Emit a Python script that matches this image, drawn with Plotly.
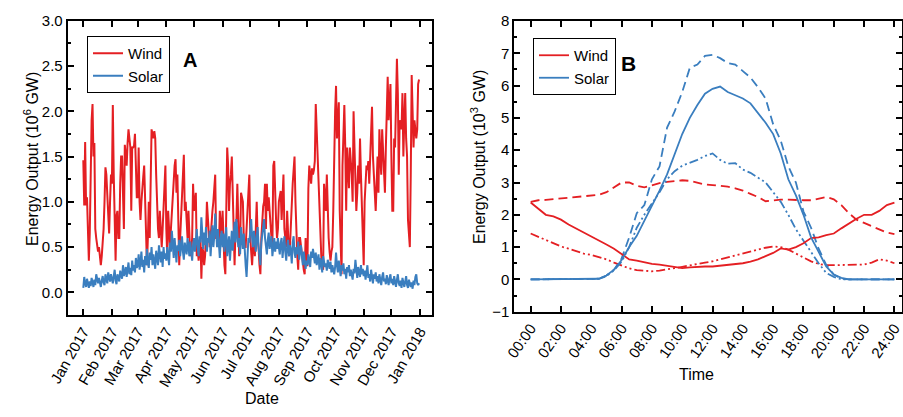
import pandas as pd
import plotly.graph_objects as go

# ---------------- Panel A data (daily, 2017, 10^6 GW) ----------------
wind_jan = [1.46, 0.96, 1.66, 0.96, 1.05, 0.64, 0.35, 0.65, 1.58, 1.9, 2.08, 1.5, 1.65, 0.7, 0.6, 0.5, 0.45, 0.5, 0.35, 0.3, 0.4, 0.55, 0.7, 1.0, 1.38, 1.3, 1.1, 0.9, 0.65, 1.0, 1.3]
wind_feb = [1.2, 2.07, 1.3, 0.7, 0.35, 0.85, 0.9, 0.6, 0.6, 1.2, 1.5, 1.5, 1.0, 0.7, 1.63, 1.5, 1.4, 1.65, 1.8, 1.7, 1.6, 0.9, 1.6, 1.6, 1.62, 1.75, 1.2, 1.05]
wind_mar = [1.05, 1.6, 1.0, 0.8, 1.0, 1.2, 1.28, 1.4, 0.9, 0.5, 0.3, 0.6, 1.0, 0.6, 1.2, 1.8, 1.75, 1.7, 1.78, 1.7, 1.3, 0.9, 0.7, 0.6, 0.9, 0.7, 0.5, 0.7, 0.95, 1.2, 1.4]
wind_apr = [0.7, 0.4, 0.9, 0.6, 0.5, 0.7, 0.9, 1.1, 1.3, 1.4, 1.47, 1.1, 1.3, 0.6, 0.3, 0.6, 0.8, 1.0, 1.2, 1.52, 0.9, 1.0, 0.8, 0.6, 0.9, 0.6, 0.4, 0.45, 0.6, 1.2]
wind_may = [0.9, 1.0, 1.1, 0.4, 0.5, 0.35, 0.5, 0.6, 0.15, 0.5, 0.45, 0.3, 0.4, 0.6, 1.0, 0.8, 0.6, 0.5, 0.6, 0.8, 0.9, 1.0, 1.2, 1.3, 0.6, 0.6, 0.55, 0.5, 0.9, 0.75, 0.6]
wind_jun = [0.9, 0.4, 0.3, 0.2, 1.1, 1.6, 1.4, 0.9, 1.2, 1.3, 1.5, 1.1, 0.4, 0.3, 0.7, 0.8, 1.2, 0.6, 0.4, 0.5, 1.1, 1.05, 1.0, 0.6, 0.5, 0.5, 0.7, 0.9, 1.2, 1.3]
wind_jul = [0.6, 0.45, 0.3, 0.5, 0.6, 0.4, 0.8, 1.0, 0.6, 0.5, 0.3, 0.2, 0.6, 0.8, 0.95, 1.0, 1.2, 0.7, 1.2, 0.9, 1.05, 0.9, 0.7, 0.6, 0.5, 1.4, 1.45, 1.0, 0.8, 0.6, 0.7]
wind_aug = [1.0, 1.05, 1.12, 0.8, 1.0, 1.3, 0.7, 0.6, 0.5, 0.9, 0.6, 0.4, 0.5, 0.8, 1.0, 1.2, 1.35, 1.5, 1.0, 0.6, 0.4, 0.25, 0.6, 0.6, 0.5, 0.4, 0.3, 0.25, 0.2, 0.6, 0.3]
wind_sep = [0.3, 1.15, 1.4, 1.3, 1.2, 1.37, 1.3, 1.35, 1.45, 2.08, 1.8, 1.6, 1.3, 0.9, 0.6, 0.4, 0.3, 0.25, 1.2, 0.95, 0.9, 1.3, 0.9, 0.6, 0.45, 0.35, 0.45, 0.5, 0.9, 1.6]
wind_oct = [2.0, 2.28, 1.7, 1.9, 2.1, 0.9, 0.6, 0.2, 1.4, 1.8, 2.07, 1.6, 0.9, 1.6, 1.3, 1.15, 1.6, 1.45, 1.3, 1.0, 2.0, 1.6, 1.1, 0.9, 1.1, 1.4, 1.2, 1.7, 1.3, 1.0, 0.5]
wind_nov = [0.3, 1.0, 1.3, 1.4, 1.35, 1.45, 1.2, 1.5, 1.8, 2.05, 1.5, 1.3, 1.0, 0.9, 1.2, 1.5, 1.1, 1.8, 1.5, 1.3, 1.8, 1.5, 1.3, 1.1, 1.6, 1.9, 2.38, 1.9, 2.1, 2.3]
wind_dec = [1.5, 0.9, 0.9, 1.7, 1.6, 2.2, 2.58, 2.2, 1.3, 1.9, 1.85, 1.8, 2.2, 1.5, 1.9, 2.2, 1.7, 1.5, 0.8, 0.6, 0.5, 1.3, 2.4, 2.0, 1.6, 1.9, 1.8, 1.7, 1.8, 2.3, 2.35]

solar_jan = [0.05, 0.17, 0.1, 0.06, 0.15, 0.08, 0.05, 0.12, 0.07, 0.16, 0.1, 0.06, 0.14, 0.08, 0.2, 0.12, 0.1, 0.16, 0.09, 0.06, 0.13, 0.18, 0.11, 0.08, 0.2, 0.15, 0.1, 0.22, 0.14, 0.12, 0.2]
solar_feb = [0.15, 0.1, 0.18, 0.25, 0.13, 0.09, 0.2, 0.16, 0.12, 0.24, 0.2, 0.15, 0.3, 0.18, 0.22, 0.28, 0.17, 0.25, 0.33, 0.2, 0.27, 0.19, 0.35, 0.24, 0.3, 0.22, 0.38, 0.27]
solar_mar = [0.3, 0.42, 0.25, 0.33, 0.45, 0.28, 0.36, 0.22, 0.4, 0.3, 0.48, 0.32, 0.27, 0.44, 0.36, 0.5, 0.3, 0.42, 0.35, 0.26, 0.46, 0.38, 0.3, 0.52, 0.4, 0.33, 0.45, 0.28, 0.5, 0.37, 0.43]
solar_apr = [0.35, 0.5, 0.42, 0.3, 0.55, 0.45, 0.68, 0.5, 0.38, 0.6, 0.44, 0.33, 0.52, 0.46, 0.58, 0.4, 0.5, 0.62, 0.45, 0.36, 0.55, 0.48, 0.42, 0.6, 0.5, 0.4, 0.56, 0.47, 0.35, 0.52]
solar_may = [0.6, 0.45, 0.55, 0.7, 0.5, 0.4, 0.62, 0.55, 0.83, 0.6, 0.48, 0.66, 0.52, 0.72, 0.45, 0.6, 0.55, 0.68, 0.4, 0.58, 0.74, 0.5, 0.62, 0.87, 0.65, 0.5, 0.7, 0.56, 0.38, 0.6, 0.68]
solar_jun = [0.5, 0.65, 0.45, 0.58, 0.72, 0.4, 0.55, 0.62, 0.35, 0.5, 0.68, 0.46, 0.6, 0.78, 0.55, 0.81, 0.66, 0.5, 0.6, 0.42, 0.72, 0.56, 0.48, 0.65, 0.4, 0.3, 0.17, 0.45, 0.6, 0.55]
solar_jul = [0.7, 0.81, 0.6, 0.5, 0.68, 0.55, 0.45, 0.62, 0.72, 0.5, 0.4, 0.3, 0.55, 0.65, 0.78, 0.81, 0.6, 0.5, 0.42, 0.58, 0.66, 0.48, 0.55, 0.62, 0.4, 0.52, 0.6, 0.45, 0.56, 0.48, 0.6]
solar_aug = [0.5, 0.42, 0.55, 0.6, 0.38, 0.48, 0.62, 0.45, 0.35, 0.5, 0.58, 0.4, 0.52, 0.46, 0.32, 0.55, 0.62, 0.44, 0.38, 0.5, 0.42, 0.56, 0.36, 0.46, 0.52, 0.4, 0.3, 0.45, 0.38, 0.26, 0.35]
solar_sep = [0.3, 0.42, 0.36, 0.28, 0.45, 0.38, 0.48, 0.4, 0.32, 0.44, 0.3, 0.36, 0.42, 0.25, 0.38, 0.33, 0.22, 0.4, 0.35, 0.28, 0.32, 0.24, 0.36, 0.3, 0.26, 0.34, 0.22, 0.3, 0.25, 0.2]
solar_oct = [0.28, 0.44, 0.3, 0.22, 0.35, 0.27, 0.18, 0.3, 0.24, 0.32, 0.2, 0.26, 0.15, 0.28, 0.22, 0.3, 0.18, 0.25, 0.2, 0.14, 0.26, 0.21, 0.36, 0.2, 0.16, 0.28, 0.22, 0.17, 0.3, 0.2, 0.26]
solar_nov = [0.18, 0.24, 0.14, 0.22, 0.3, 0.16, 0.2, 0.12, 0.25, 0.18, 0.1, 0.2, 0.15, 0.22, 0.12, 0.18, 0.1, 0.2, 0.14, 0.08, 0.17, 0.22, 0.12, 0.15, 0.09, 0.19, 0.13, 0.08, 0.16, 0.2]
solar_dec = [0.1, 0.15, 0.08, 0.18, 0.12, 0.06, 0.14, 0.2, 0.1, 0.07, 0.13, 0.05, 0.16, 0.1, 0.06, 0.12, 0.18, 0.08, 0.05, 0.14, 0.09, 0.06, 0.11, 0.04, 0.13, 0.08, 0.17, 0.2, 0.1, 0.08, 0.1]

month_ticks = ["2017-01-01", "2017-02-01", "2017-03-01", "2017-04-01", "2017-05-01", "2017-06-01",
               "2017-07-01", "2017-08-01", "2017-09-01", "2017-10-01", "2017-11-01", "2017-12-01", "2018-01-01"]
month_labels = ["Jan 2017", "Feb 2017", "Mar 2017", "Apr 2017", "May 2017", "Jun 2017", "Jul 2017",
                "Aug 2017", "Sep 2017", "Oct 2017", "Nov 2017", "Dec 2017", "Jan 2018"]

# ---------------- Panel B data (half-hourly, 10^3 GW) ----------------
hours = [h / 2 for h in range(49)]
wind_solid = [2.38, 2.2, 2.0, 1.95, 1.85, 1.7, 1.58, 1.45, 1.32, 1.2, 1.08, 0.95, 0.78, 0.62, 0.58, 0.52, 0.48, 0.46, 0.42, 0.38, 0.35, 0.37, 0.39, 0.4, 0.4, 0.42, 0.44, 0.47, 0.5, 0.55, 0.62, 0.72, 0.82, 0.96, 0.92, 1.0, 1.12, 1.28, 1.3, 1.37, 1.42, 1.58, 1.73, 1.88, 2.0, 2.0, 2.12, 2.3, 2.38]
wind_dash = [2.4, 2.45, 2.46, 2.48, 2.5, 2.53, 2.56, 2.57, 2.58, 2.62, 2.7, 2.85, 3.0, 3.0, 2.9, 2.85, 2.92, 2.98, 3.02, 3.05, 3.07, 3.05, 3.0, 2.94, 2.92, 2.9, 2.87, 2.82, 2.75, 2.65, 2.55, 2.42, 2.45, 2.47, 2.47, 2.45, 2.45, 2.45, 2.5, 2.55, 2.48, 2.3, 2.05, 1.85, 1.75, 1.65, 1.55, 1.45, 1.4]
wind_dashdot = [1.42, 1.32, 1.22, 1.1, 1.02, 0.95, 0.88, 0.8, 0.76, 0.7, 0.62, 0.52, 0.42, 0.34, 0.29, 0.27, 0.25, 0.27, 0.3, 0.35, 0.39, 0.44, 0.48, 0.52, 0.56, 0.62, 0.68, 0.76, 0.82, 0.88, 0.94, 0.98, 1.02, 1.0, 0.92, 0.8, 0.66, 0.56, 0.48, 0.44, 0.44, 0.44, 0.44, 0.44, 0.46, 0.52, 0.62, 0.58, 0.5]
solar_solid = [0, 0, 0, 0, 0, 0, 0, 0, 0, 0.02, 0.12, 0.3, 0.6, 1.0, 1.35, 1.8, 2.25, 2.75, 3.25, 3.9, 4.5, 5.0, 5.4, 5.75, 5.9, 5.97, 5.8, 5.7, 5.6, 5.45, 5.15, 4.85, 4.5, 3.9, 3.1, 2.6, 2.0, 1.3, 0.85, 0.4, 0.15, 0.05, 0, 0, 0, 0, 0, 0, 0]
solar_dash = [0, 0, 0, 0, 0, 0, 0, 0, 0, 0.02, 0.12, 0.3, 0.65, 1.3, 2.05, 2.3, 3.1, 3.5, 4.7, 5.2, 5.8, 6.55, 6.65, 6.92, 6.95, 6.85, 6.7, 6.65, 6.45, 6.25, 5.95, 5.6, 4.8, 4.3, 3.5, 3.0, 2.1, 1.6, 0.95, 0.45, 0.15, 0.02, 0, 0, 0, 0, 0, 0, 0]
solar_dashdot = [0, 0, 0, 0, 0, 0, 0, 0, 0, 0.02, 0.1, 0.28, 0.55, 1.0, 1.6, 2.0, 2.35, 2.7, 3.1, 3.35, 3.52, 3.6, 3.7, 3.82, 3.9, 3.7, 3.58, 3.6, 3.4, 3.3, 3.15, 3.0, 2.7, 2.4, 2.0, 1.55, 1.2, 0.85, 0.5, 0.2, 0.08, 0.0, 0, 0, 0, 0, 0, 0, 0]
hour_ticks = list(range(0, 25, 2))
hour_labels = ["00:00", "02:00", "04:00", "06:00", "08:00", "10:00", "12:00",
               "14:00", "16:00", "18:00", "20:00", "22:00", "24:00"]

# ---------------- build ----------------
wind_daily = (wind_jan + wind_feb + wind_mar + wind_apr + wind_may + wind_jun +
              wind_jul + wind_aug + wind_sep + wind_oct + wind_nov + wind_dec)
solar_daily = (solar_jan + solar_feb + solar_mar + solar_apr + solar_may + solar_jun +
               solar_jul + solar_aug + solar_sep + solar_oct + solar_nov + solar_dec)
dates = pd.date_range("2017-01-01", periods=len(wind_daily), freq="D")

RED = "#e41f23"
BLUE = "#3a7ebf"
FONT = "Liberation Sans, Arial, sans-serif"
W, H = 903, 417

fig = go.Figure()
fig.add_trace(go.Scatter(x=dates, y=wind_daily, mode="lines", name="Wind",
                         line=dict(color=RED, width=2), xaxis="x", yaxis="y", legend="legend"))
fig.add_trace(go.Scatter(x=dates, y=solar_daily, mode="lines", name="Solar",
                         line=dict(color=BLUE, width=2), xaxis="x", yaxis="y", legend="legend"))

DD = "9px,3px,2px,3px,2px,3px"
fig.add_trace(go.Scatter(x=hours, y=wind_dash, mode="lines", showlegend=False,
                         line=dict(color=RED, width=1.8, dash="9px,5px"), xaxis="x2", yaxis="y2"))
fig.add_trace(go.Scatter(x=hours, y=wind_dashdot, mode="lines", showlegend=False,
                         line=dict(color=RED, width=1.8, dash=DD), xaxis="x2", yaxis="y2"))
fig.add_trace(go.Scatter(x=hours, y=solar_dash, mode="lines", showlegend=False,
                         line=dict(color=BLUE, width=1.8, dash="9px,5px"), xaxis="x2", yaxis="y2"))
fig.add_trace(go.Scatter(x=hours, y=solar_dashdot, mode="lines", showlegend=False,
                         line=dict(color=BLUE, width=1.8, dash=DD), xaxis="x2", yaxis="y2"))
fig.add_trace(go.Scatter(x=hours, y=wind_solid, mode="lines", name="Wind",
                         line=dict(color=RED, width=1.8), xaxis="x2", yaxis="y2", legend="legend2"))
fig.add_trace(go.Scatter(x=hours, y=solar_solid, mode="lines", name="Solar",
                         line=dict(color=BLUE, width=1.8), xaxis="x2", yaxis="y2", legend="legend2"))

common = dict(showline=True, linecolor="black", linewidth=2, mirror="ticks",
              ticks="inside", ticklen=6, tickwidth=1.5, tickcolor="black",
              showgrid=False, zeroline=False, automargin=False, ticklabeloverflow="allow",
              tickfont=dict(family=FONT, size=15, color="black"))

def px(xp):
    return xp / W

def py(yp):
    return 1 - yp / H

fig.update_layout(
    width=W, height=H,
    margin=dict(l=0, r=0, t=0, b=0, autoexpand=False),
    paper_bgcolor="white", plot_bgcolor="white",
    font=dict(family=FONT, color="black"),
    xaxis=dict(common, type="date", domain=[px(67.7), px(431.7)], anchor="y",
               range=["2016-12-15 02:00", "2018-01-13 17:00"],
               tickvals=month_ticks, ticktext=month_labels, tickangle=-60),
    yaxis=dict(common, domain=[py(315), py(20.7)], anchor="x",
               range=[-0.25, 3.0], tick0=0, dtick=0.5, tickformat=".1f",
               minor=dict(ticks="inside", ticklen=3, dtick=0.25, tick0=0, tickcolor="black", tickwidth=1.5)),
    xaxis2=dict(common, domain=[px(514.3), px(902)], anchor="y2",
                range=[-1.08, 24.5], tickvals=hour_ticks, ticktext=hour_labels, tickangle=-55),
    yaxis2=dict(common, domain=[py(311.7), py(21)], anchor="x2",
                range=[-1, 8], tick0=0, dtick=1,
                minor=dict(ticks="inside", ticklen=3, dtick=0.5, tick0=0, tickcolor="black", tickwidth=1.5)),
    legend=dict(x=px(87), y=py(36), xanchor="left", yanchor="top",
                bgcolor="white", bordercolor="black", borderwidth=1,
                font=dict(family=FONT, size=15, color="black"), tracegroupgap=0),
    legend2=dict(x=px(533), y=py(38), xanchor="left", yanchor="top",
                 bgcolor="white", bordercolor="black", borderwidth=1,
                 font=dict(family=FONT, size=15, color="black"), tracegroupgap=0),
    annotations=[
        dict(text="<b>A</b>", x=px(181), y=py(47), xref="paper", yref="paper",
             showarrow=False, font=dict(family=FONT, size=20, color="black")),
        dict(text="<b>B</b>", x=px(638), y=py(50), xref="paper", yref="paper",
             showarrow=False, font=dict(family=FONT, size=21, color="black")),
        dict(text="Energy Output (10<sup>6</sup> GW)", x=px(19), y=py(159), xref="paper", yref="paper",
             textangle=-90, showarrow=False, font=dict(family=FONT, size=16, color="black")),
        dict(text="Energy Output (10<sup>3</sup> GW)", x=px(478), y=py(157), xref="paper", yref="paper",
             textangle=-90, showarrow=False, font=dict(family=FONT, size=16, color="black")),
        dict(text="Date", x=px(243), y=py(409), xref="paper", yref="paper",
             showarrow=False, font=dict(family=FONT, size=16, color="black")),
        dict(text="Time", x=px(716), y=py(385), xref="paper", yref="paper",
             showarrow=False, font=dict(family=FONT, size=16, color="black")),
    ],
)

fig.write_html("out.html", config={"displayModeBar": False},
               post_script="document.body.style.margin='0';document.body.style.overflow='hidden';")
